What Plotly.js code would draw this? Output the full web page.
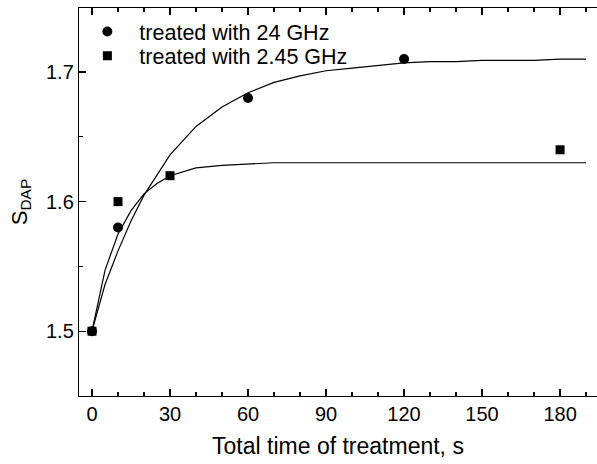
<!DOCTYPE html>
<html>
<head>
<meta charset="utf-8">
<script src="https://cdn.plot.ly/plotly-3.0.1.min.js"></script>
<style>html,body{margin:0;padding:0;background:#fff}#chart{width:597px;height:464px}</style>
</head>
<body>
<div id="chart"></div>
<script>
// measured points
const time24 = [0, 10, 60, 120];
const sdap24 = [1.50, 1.58, 1.68, 1.71];
const time245 = [0, 10, 30, 180];
const sdap245 = [1.50, 1.60, 1.62, 1.64];
// fitted curves
const fitTime = [0, 5, 10, 15, 20, 25, 30, 40, 50, 60, 70, 80, 90, 100, 110, 120, 130, 140, 150, 160, 170, 180, 190];
const fit24 = [1.500, 1.536, 1.562, 1.585, 1.605, 1.621, 1.636, 1.658, 1.673, 1.684, 1.692, 1.697, 1.701, 1.703, 1.705, 1.707, 1.708, 1.708, 1.709, 1.709, 1.709, 1.710, 1.710];
const fit245 = [1.500, 1.547, 1.575, 1.593, 1.606, 1.614, 1.620, 1.626, 1.628, 1.629, 1.630, 1.630, 1.630, 1.630, 1.630, 1.630, 1.630, 1.630, 1.630, 1.630, 1.630, 1.630, 1.630];
const xTicks = [0, 30, 60, 90, 120, 150, 180];
const yTicks = [1.5, 1.6, 1.7];
const legendNames = ['treated with 24 GHz', 'treated with 2.45 GHz'];

const font = 'Liberation Sans, Arial, sans-serif';
const data = [
  {x: fitTime, y: fit24, mode: 'lines', line: {color: '#000', width: 1.2}, showlegend: false, hoverinfo: 'skip'},
  {x: fitTime, y: fit245, mode: 'lines', line: {color: '#000', width: 1.2}, showlegend: false, hoverinfo: 'skip'},
  {x: time24, y: sdap24, mode: 'markers', name: legendNames[0], legend: 'legend', marker: {symbol: 'circle', size: 10, color: '#000'}},
  {x: time245, y: sdap245, mode: 'markers', name: legendNames[1], legend: 'legend2', marker: {symbol: 'square', size: 9, color: '#000'}}
];
const legendBase = {xanchor: 'left', yanchor: 'top', bgcolor: 'rgba(0,0,0,0)', font: {size: 21.5, family: font}, itemwidth: 54};
const layout = {
  width: 597, height: 464,
  margin: {l: 79, r: 0, t: 8, b: 68},
  paper_bgcolor: '#fff', plot_bgcolor: '#fff',
  font: {family: font, color: '#000', size: 20},
  showlegend: true,
  legend: Object.assign({x: -0.007, y: 0.992}, legendBase),
  legend2: Object.assign({x: -0.007, y: 0.93}, legendBase),
  xaxis: {
    range: [-5, 194.2], tickvals: xTicks, ticktext: xTicks.map(String),
    ticks: 'inside', ticklen: 7, tickwidth: 1.2, tickcolor: '#000',
    minor: {dtick: 10, tick0: 0, ticks: 'inside', ticklen: 4, tickwidth: 1.2, tickcolor: '#000', showgrid: false},
    showline: true, linecolor: '#000', linewidth: 1.2, mirror: 'allticks',
    showgrid: false, zeroline: false,
    tickfont: {size: 20, family: font},
    title: {text: 'Total time of treatment, s', font: {size: 23, family: font}, standoff: 13}
  },
  yaxis: {
    range: [1.45, 1.7494], tickvals: yTicks, ticktext: ['1.5', '1.6', '1.7'],
    ticks: 'inside', ticklen: 7, tickwidth: 1.2, tickcolor: '#000',
    minor: {dtick: 0.05, tick0: 1.5, ticks: 'inside', ticklen: 4, tickwidth: 1.2, tickcolor: '#000', showgrid: false},
    showline: true, linecolor: '#000', linewidth: 1.2,
    showgrid: false, zeroline: false,
    tickfont: {size: 20, family: font},
    title: {text: 'S<sub>DAP</sub>', font: {size: 22, family: font}, standoff: 12}
  }
};
Plotly.newPlot('chart', data, layout, {staticPlot: true, displayModeBar: false});
</script>
</body>
</html>
